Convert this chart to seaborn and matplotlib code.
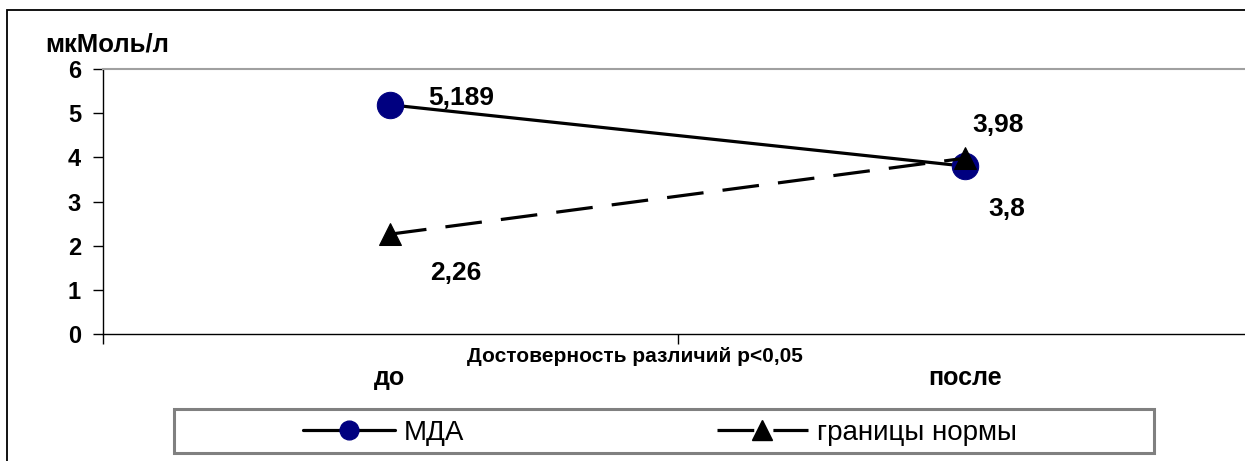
import matplotlib
matplotlib.use("Agg")
import matplotlib.pyplot as plt
from matplotlib.patches import Rectangle
from matplotlib.lines import Line2D
import seaborn as sns
import pandas as pd

# Data
stages = ["до", "после"]
mda = [5.189, 3.8]
norm_bound = [2.26, 3.98]
mda_labels = ["5,189", "3,8"]
norm_labels = ["2,26", "3,98"]
series_names = ["МДА", "границы нормы"]
y_ticks = [0, 1, 2, 3, 4, 5, 6]
y_unit = "мкМоль/л"
x_title = "Достоверность различий p<0,05"

sns.set_theme(style="white", rc={
    "text.color": "black",
    "xtick.color": "black",
    "ytick.color": "black",
    "axes.labelcolor": "black",
})
plt.rcParams["font.family"] = ["Liberation Sans", "DejaVu Sans"]

W, H = 1245, 461
fig = plt.figure(figsize=(W / 100, H / 100), dpi=100)
fig.patch.set_facecolor("white")

# plot area in pixel coordinates
x0, x1, y_top, y_bot = 102.5, 1252.5, 69, 334
ax = fig.add_axes([x0 / W, (H - y_bot) / H, (x1 - x0) / W, (y_bot - y_top) / H])

df = pd.DataFrame({
    "stage": stages * 2,
    "value": mda + norm_bound,
    "series": [series_names[0]] * 2 + [series_names[1]] * 2,
})

navy = "#000080"
sns.lineplot(data=df[df.series == series_names[0]], x="stage", y="value",
             color="black", lw=2.3, marker="o", markersize=19,
             markerfacecolor=navy, markeredgecolor=navy, ax=ax, legend=False)
sns.lineplot(data=df[df.series == series_names[1]], x="stage", y="value",
             color="black", lw=2.3, marker="^", markersize=16,
             markerfacecolor="black", markeredgecolor="black", ax=ax, legend=False)
ax.lines[1].set_dashes((11.5, 6))

ax.set_xlim(-0.5, 1.5)
ax.set_ylim(0, 6)
ax.set_xlabel("")
ax.set_ylabel("")

# axes styling
for side in ["left", "bottom"]:
    ax.spines[side].set_color("black")
    ax.spines[side].set_linewidth(1.0)
ax.spines["top"].set_color("#a0a0a0")
ax.spines["top"].set_linewidth(1.5)
ax.spines["right"].set_visible(False)

ax.set_yticks(y_ticks)
ax.set_yticklabels([str(t) for t in y_ticks], fontsize=17, fontweight="bold")
ax.tick_params(axis="y", direction="out", length=7.5, width=1, color="black",
               left=True, pad=8)

# category boundaries as major ticks, category names as minor labels
ax.set_xticks([-0.5, 0.5, 1.5])
ax.set_xticklabels([])
ax.tick_params(axis="x", which="major", direction="out", length=7, width=1,
               color="black", bottom=True)
ax.set_xticks([0, 1], minor=True)
ax.set_xticklabels(stages, minor=True, fontsize=18, fontweight="bold")
ax.tick_params(axis="x", which="minor", length=0, pad=23)

# axis title between the axis and the category names
fig.text(635 / W, (H - 356) / H, x_title, ha="center",
         va="center", fontsize=15, fontweight="bold")

# unit label
fig.text(45 / W, (H - 45) / H, y_unit, ha="left", va="center",
         fontsize=18.5, fontweight="bold")

# value labels
lab_kw = dict(fontsize=19, fontweight="bold", textcoords="offset pixels")
ax.annotate(mda_labels[0], (0, mda[0]), xytext=(38, 7), ha="left", va="center", **lab_kw)
ax.annotate(mda_labels[1], (1, mda[1]), xytext=(23, -43), ha="left", va="center", **lab_kw)
ax.annotate(norm_labels[0], (0, norm_bound[0]), xytext=(40, -39), ha="left", va="center", **lab_kw)
ax.annotate(norm_labels[1], (1, norm_bound[1]), xytext=(7, 33), ha="left", va="center", **lab_kw)

# legend
handles = [
    Line2D([], [], color="black", lw=2.3, marker="o", markersize=13.5,
           markerfacecolor=navy, markeredgecolor=navy),
    Line2D([], [], color="black", lw=2.3, marker="^", markersize=15,
           markerfacecolor="black", markeredgecolor="black", dashes=(11.5, 6)),
]
fig.legend(handles, series_names, loc="center", ncol=2,
           bbox_to_anchor=(660 / W, (H - 433) / H), frameon=False,
           fontsize=20, handlelength=3.3, handletextpad=0.3,
           columnspacing=9.1, borderpad=0.2)
fig.patches.append(Rectangle((174 / W, (H - 453) / H), 980 / W, 44 / H,
                             transform=fig.transFigure, fill=False,
                             edgecolor="#808080", lw=2.2))

# chart border
fig.patches.append(Rectangle((7 / W, -0.1), 1.2, (H - 10) / H + 0.1,
                             transform=fig.transFigure, fill=False,
                             edgecolor="black", lw=1.3))

fig.savefig("out.png", dpi=100)
